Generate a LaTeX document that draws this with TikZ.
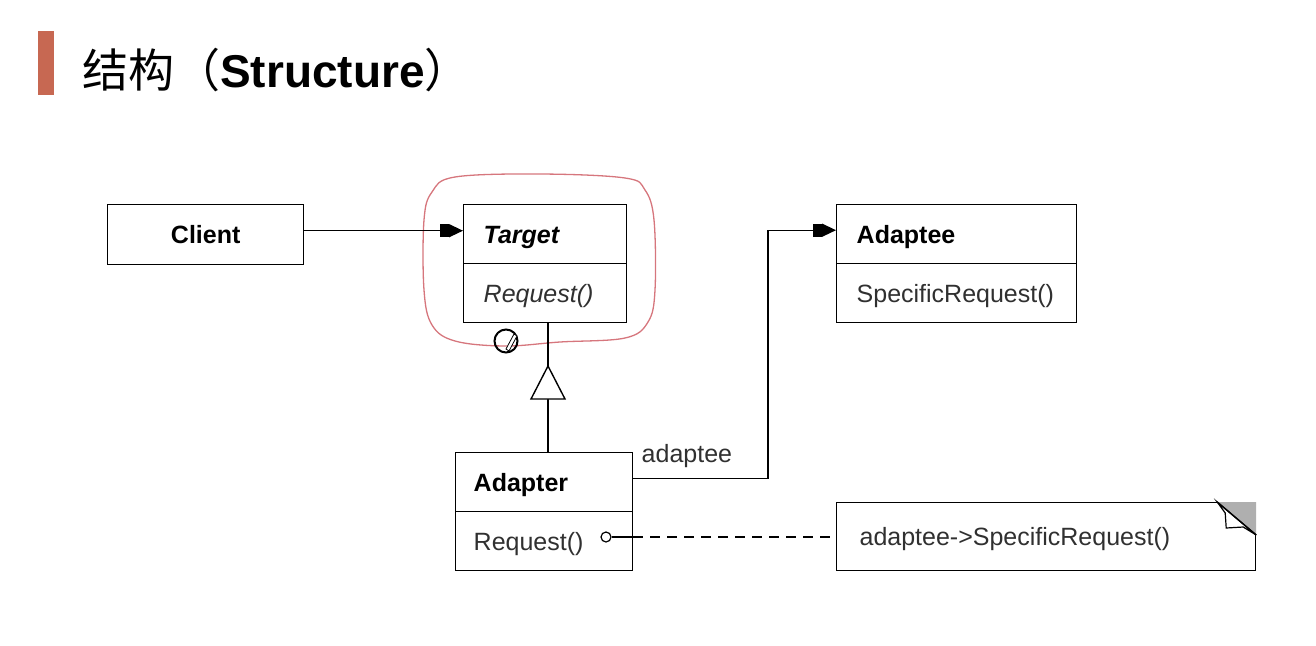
\documentclass[tikz,border=0pt]{standalone}
\usepackage{fontspec}
\setmainfont{Liberation Sans}
\newfontfamily\cjk{Noto Sans CJK SC}
\usetikzlibrary{arrows.meta,calc}
\definecolor{barcol}{RGB}{199,104,82}
\definecolor{loopcol}{RGB}{214,118,125}
\definecolor{txtgray}{RGB}{48,48,48}
\definecolor{foldgray}{RGB}{175,175,175}
\tikzset{
  box/.style={draw=black, line width=1.4, inner ysep=0, text height=18, text depth=0pt,
    font=\fontsize{25}{30}\selectfont},
  lsect/.style={box, anchor=north west, minimum height=59, inner xsep=20, align=left},
  txt/.style={inner sep=0, text height=18, text depth=0pt, font=\fontsize{25}{30}\selectfont, text=txtgray},
  conn/.style={draw=black, line width=1.4},
  assoc/.style={conn, -{Rectangle[length=9,width=13]Triangle[length=14,width=13]}},
  dashline/.style={conn, dash pattern=on 10 off 7},
}
\begin{document}
\begin{tikzpicture}[x=1pt,y=-1pt]
\useasboundingbox (0,0) rectangle (1316,645);
% title
\fill[barcol] (38,31) rectangle (54,95);
\node[anchor=base west, inner sep=0, font=\fontsize{46}{52}\selectfont] (title) at (82,87)
  {{\cjk 结构（}\textbf{Structure}{\cjk ）}};
% red hand-drawn loop
\draw[loopcol, line width=1.3] plot[smooth cycle, tension=0.6] coordinates {
  (432,192) (455,177) (540,174) (625,178) (645,190) (654,220) (655,290)
  (648,322) (625,338) (560,342) (505,346) (455,341) (432,325) (424,290) (424,220)};
% classes
\node[box, anchor=north west, minimum width=196, minimum height=60, inner sep=0, font=\fontsize{25}{30}\selectfont\bfseries] (client) at (107,204) {Client};
\node[lsect, text width=123, font=\fontsize{25}{30}\selectfont\bfseries\itshape] (tgtH) at (463,204) {Target};
\node[lsect, text width=123, font=\fontsize{25}{30}\selectfont\itshape, text=txtgray] (tgtB) at (463,263) {Request()};
\node[lsect, text width=200, font=\fontsize{25}{30}\selectfont\bfseries] (adeH) at (836,204) {Adaptee};
\node[lsect, text width=200, text=txtgray] (adeB) at (836,263) {SpecificRequest()};
\node[lsect, inner xsep=18, text width=141, font=\fontsize{25}{30}\selectfont\bfseries] (adpH) at (455,452) {Adapter};
\node[lsect, inner xsep=18, text width=141, text=txtgray] (adpB) at (455,511) {Request()};
% note
\node[box, anchor=north west, minimum height=68, inner xsep=23, text width=373, align=left, text=txtgray, line width=1.2] (note) at (836,502) {adaptee->SpecificRequest()};
\fill[foldgray] (note.north east) ++(-39,0) -- (note.north east) -- ++(0,33) -- cycle;
\draw[line width=1.2, fill=white] (note.north east) ++(-39,0) -- ++(8,11) -- ++(1,15) -- ++(17,-1) -- ++(13,8) -- cycle;
\draw[line width=1.4] (note.north east) ++(-39,0) -- ++(39,33);
% marker circle with pencil
\node[circle, draw=black, line width=2, minimum size=23, inner sep=0] (mark) at (506,341) {};
\draw[line width=0.8, fill=white] (mark.center) ++(0,8) -- ++(8,-15) -- ++(3,2) -- ++(-8,15) -- cycle;
% associations
\draw[assoc] ([yshift=4]client.east) -- ([yshift=4]client.east -| tgtH.west);
\coordinate (bend) at (768,0);
\draw[assoc] ([yshift=4]adpH.east) -- ([yshift=4]adpH.east -| bend) |- ([yshift=4]adeH.west)
  node[pos=0, anchor=south west, txt, xshift=-127, yshift=15] (lbl) {adaptee};
% inheritance
\coordinate (apex) at (548,366);
\draw[conn] (apex |- adpH.north) -- (apex |- tgtB.south);
\draw[conn, fill=white] (apex) -- ++(-17,33) -- ++(34,0) -- cycle;
% note connector
\node[circle, draw=black, line width=1.2, minimum size=10, inner sep=0] (dot) at (606,537) {};
\coordinate (stub) at (dot.east -| adpB.east);
\draw[conn] (dot.east) -- (stub);
\draw[dashline] (stub) -- (dot.east -| note.west);
\end{tikzpicture}
\end{document}
